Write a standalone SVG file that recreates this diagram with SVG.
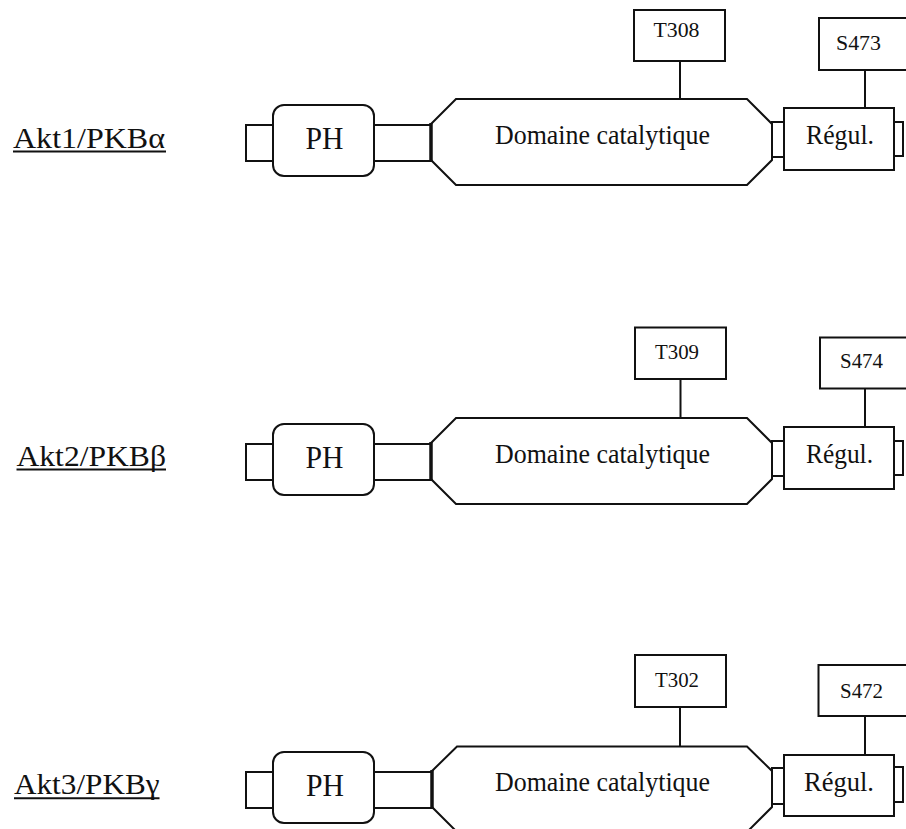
<svg xmlns="http://www.w3.org/2000/svg" width="906" height="829" viewBox="0 0 906 829">
<style>
.s{fill:#fff;stroke:#111;stroke-width:2}
.thick{fill:none;stroke:#111;stroke-width:3.5}
.ln{fill:none;stroke:#111;stroke-width:2}
.t{font-family:"Liberation Serif","Times New Roman",serif;fill:#111}
.lab{font-size:30px}
.ph{font-size:32px}
.cat{font-size:28px}
.reg{font-size:28px}
.site{font-size:21px}
</style>
<rect width="906" height="829" fill="#fff"/>

<!-- Row 1 -->
<g id="row1">
  <g id="label1">
    <text class="t lab" x="13" y="148" textLength="152" lengthAdjust="spacingAndGlyphs">Akt1/PKBα</text>
    <line class="ln" x1="13" y1="151.5" x2="166" y2="151.5"/>
  </g>
  <g id="nterm1"><rect class="s" x="246" y="125" width="27" height="36"/></g>
  <g id="ph1">
    <rect class="s" x="273" y="105" width="101" height="71" rx="11"/>
    <text class="t ph" x="305.5" y="148.5" textLength="38" lengthAdjust="spacingAndGlyphs">PH</text>
  </g>
  <g id="linker1"><rect class="s" x="374" y="125" width="57" height="36"/></g>
  <g id="cat1">
    <polygon class="s" points="431,124 456,99 747,99 772,124 772,160 747,185 456,185 431,160"/>
    <line class="thick" x1="431" y1="123" x2="431" y2="161"/>
    <text class="t cat" x="495" y="144" textLength="215" lengthAdjust="spacingAndGlyphs">Domaine catalytique</text>
  </g>
  <g id="hinge1"><rect class="s" x="772" y="122" width="12" height="35" stroke-width="2.5"/></g>
  <g id="reg1">
    <rect class="s" x="784" y="108" width="110" height="62"/>
    <text class="t reg" x="806" y="144" textLength="68" lengthAdjust="spacingAndGlyphs">Régul.</text>
  </g>
  <g id="cterm1"><rect class="s" x="894" y="122" width="9" height="34"/></g>
  <g id="T308">
    <rect class="s" x="634" y="10" width="91" height="51"/>
    <text class="t site" x="653.5" y="37" textLength="46" lengthAdjust="spacingAndGlyphs">T308</text>
  </g>
  <g id="S473">
    <rect class="s" x="819" y="18" width="100" height="52"/>
    <text class="t site" x="836" y="50" textLength="45" lengthAdjust="spacingAndGlyphs">S473</text>
  </g>
</g>

<!-- Row 2 -->
<g id="row2">
  <g id="label2">
    <text class="t lab" x="16.5" y="465.7" textLength="149.5" lengthAdjust="spacingAndGlyphs">Akt2/PKBβ</text>
    <line class="ln" x1="16.5" y1="469.5" x2="166" y2="469.5"/>
  </g>
  <g id="nterm2"><rect class="s" x="246" y="444" width="27" height="36"/></g>
  <g id="ph2">
    <rect class="s" x="273" y="424" width="101" height="71" rx="11"/>
    <text class="t ph" x="305.5" y="467.5" textLength="38" lengthAdjust="spacingAndGlyphs">PH</text>
  </g>
  <g id="linker2"><rect class="s" x="374" y="444" width="57" height="36"/></g>
  <g id="cat2">
    <polygon class="s" points="431,443 456,418 747,418 772,443 772,479 747,504 456,504 431,479"/>
    <line class="thick" x1="431" y1="442" x2="431" y2="480"/>
    <text class="t cat" x="495" y="463" textLength="215" lengthAdjust="spacingAndGlyphs">Domaine catalytique</text>
  </g>
  <g id="hinge2"><rect class="s" x="772" y="441" width="12" height="35" stroke-width="2.5"/></g>
  <g id="reg2">
    <rect class="s" x="784" y="427" width="110" height="62"/>
    <text class="t reg" x="806" y="463.3" textLength="67" lengthAdjust="spacingAndGlyphs">Régul.</text>
  </g>
  <g id="cterm2"><rect class="s" x="894" y="441" width="9" height="34"/></g>
  <g id="T309">
    <rect class="s" x="635" y="327.5" width="91" height="51.5"/>
    <text class="t site" x="655" y="359" textLength="44" lengthAdjust="spacingAndGlyphs">T309</text>
  </g>
  <g id="S474">
    <rect class="s" x="820" y="337.5" width="100" height="51"/>
    <text class="t site" x="840" y="368.3" textLength="43" lengthAdjust="spacingAndGlyphs">S474</text>
  </g>
</g>

<!-- Row 3 -->
<g id="row3">
  <g id="label3">
    <text class="t lab" x="14" y="794.3" textLength="145.5" lengthAdjust="spacingAndGlyphs">Akt3/PKBγ</text>
    <line class="ln" x1="14" y1="798.3" x2="159.5" y2="798.3"/>
  </g>
  <g id="nterm3"><rect class="s" x="246" y="772" width="27" height="36"/></g>
  <g id="ph3">
    <rect class="s" x="273" y="752" width="101" height="71" rx="11"/>
    <text class="t ph" x="306" y="795.7" textLength="38" lengthAdjust="spacingAndGlyphs">PH</text>
  </g>
  <g id="linker3"><rect class="s" x="374" y="772" width="58" height="36"/></g>
  <g id="cat3">
    <polygon class="s" points="432,771 457,746.5 747,746.5 772,771 772,807 747,832 457,832 432,807"/>
    <line class="thick" x1="432" y1="770" x2="432" y2="808"/>
    <text class="t cat" x="495" y="791" textLength="215" lengthAdjust="spacingAndGlyphs">Domaine catalytique</text>
  </g>
  <g id="hinge3"><rect class="s" x="772" y="768" width="12" height="36" stroke-width="2.5"/></g>
  <g id="reg3">
    <rect class="s" x="784" y="755" width="110" height="61"/>
    <text class="t reg" x="804" y="790.7" textLength="70" lengthAdjust="spacingAndGlyphs">Régul.</text>
  </g>
  <g id="cterm3"><rect class="s" x="894" y="767" width="9" height="35"/></g>
  <g id="T302">
    <rect class="s" x="635" y="655" width="91" height="52"/>
    <text class="t site" x="655" y="687.3" textLength="44" lengthAdjust="spacingAndGlyphs">T302</text>
  </g>
  <g id="S472">
    <rect class="s" x="818.5" y="665" width="100" height="51"/>
    <text class="t site" x="840" y="698.3" textLength="43" lengthAdjust="spacingAndGlyphs">S472</text>
  </g>
</g>

<!-- Connectors -->
<g id="connectors" class="ln">
  <line x1="680" y1="61" x2="680" y2="99"/>
  <line x1="865" y1="70" x2="865" y2="108"/>
  <line x1="680.5" y1="379" x2="680.5" y2="418"/>
  <line x1="865" y1="388.5" x2="865" y2="427"/>
  <line x1="680" y1="707" x2="680" y2="746.5"/>
  <line x1="865" y1="716" x2="865" y2="755"/>
</g>
</svg>
